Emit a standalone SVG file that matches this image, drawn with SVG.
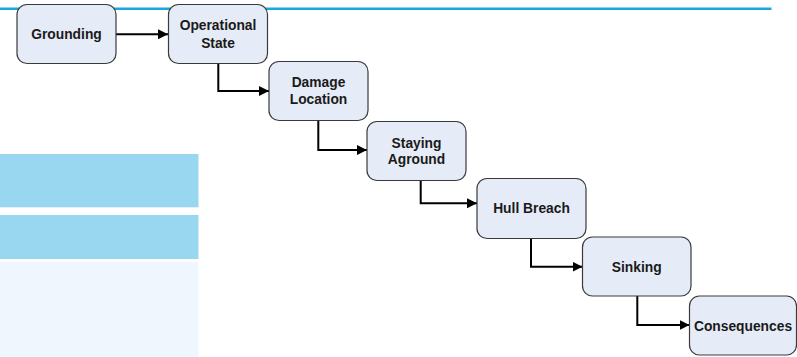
<svg xmlns="http://www.w3.org/2000/svg" width="797" height="357" viewBox="0 0 797 357">
<defs>
<style>
.node rect{fill:#E6ECF7;stroke:#3a3a3a;stroke-width:1.2}
.node text{font-family:"Liberation Sans",Arial,sans-serif;font-weight:bold;font-size:13.8px;fill:#1a1a1a;text-anchor:middle}
.conn path{fill:none;stroke:#000;stroke-width:2}
</style>
<marker id="arr" viewBox="0 0 10 10" refX="10" refY="5" markerWidth="5" markerHeight="5" markerUnits="strokeWidth" orient="auto">
<path d="M0,0 L10,5 L0,10 Z" fill="#000"/>
</marker>
</defs>
<rect width="797" height="357" fill="#fff"/>
<g id="background">
<line x1="0" y1="8.8" x2="771.5" y2="8.8" stroke="#1BA6DF" stroke-width="2.5"/>
<rect x="0" y="154" width="198.5" height="53.3" fill="#99D7F0"/>
<rect x="0" y="215" width="198.5" height="44" fill="#99D7F0"/>
<rect x="0" y="261.7" width="198.5" height="95.3" fill="#EFF6FE"/>
</g>
<g id="connectors" class="conn">
<path d="M116,34.3 H168" marker-end="url(#arr)"/>
<path d="M218.3,63 V91 H269" marker-end="url(#arr)"/>
<path d="M318.3,120 V150 H367" marker-end="url(#arr)"/>
<path d="M420.7,180 V203.3 H477" marker-end="url(#arr)"/>
<path d="M531,238 V266.7 H582.5" marker-end="url(#arr)"/>
<path d="M637.3,296 V325 H689.5" marker-end="url(#arr)"/>
</g>
<g id="n-grounding" class="node">
<rect x="17" y="4.5" width="99" height="59" rx="10"/>
<text x="66.5" y="39">Grounding</text>
</g>
<g id="n-operational" class="node">
<rect x="168.5" y="4.5" width="99" height="59" rx="10"/>
<text x="218" y="29.8">Operational</text>
<text x="218" y="47.5">State</text>
</g>
<g id="n-damage" class="node">
<rect x="269" y="61.5" width="99" height="59" rx="10"/>
<text x="318.5" y="87">Damage</text>
<text x="318.5" y="104">Location</text>
</g>
<g id="n-staying" class="node">
<rect x="367" y="121.5" width="99" height="59" rx="10"/>
<text x="416.5" y="147.5">Staying</text>
<text x="416.5" y="164">Aground</text>
</g>
<g id="n-hull" class="node">
<rect x="477" y="178.5" width="109" height="60" rx="10"/>
<text x="531.5" y="213">Hull Breach</text>
</g>
<g id="n-sinking" class="node">
<rect x="582.5" y="237" width="108.5" height="59" rx="10"/>
<text x="636.7" y="271.5">Sinking</text>
</g>
<g id="n-consequences" class="node">
<rect x="689.5" y="296" width="107" height="59" rx="10"/>
<text x="743" y="330.5">Consequences</text>
</g>
</svg>
